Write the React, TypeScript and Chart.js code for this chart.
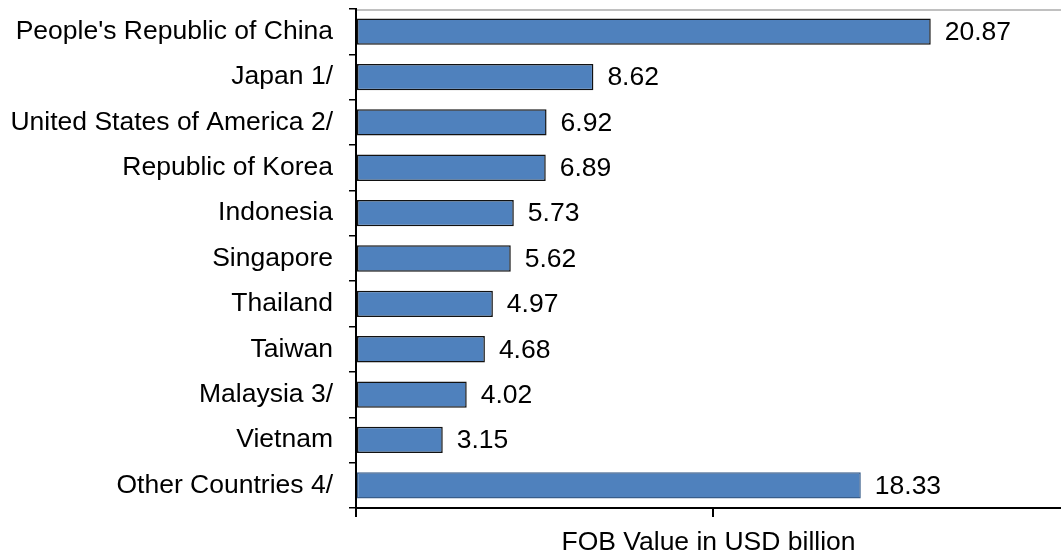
import React, { useEffect, useRef } from "react";
import { Chart, registerables } from "chart.js";

Chart.register(...registerables);

const categories = [
  "People's Republic of China",
  "Japan 1/",
  "United States of America 2/",
  "Republic of Korea",
  "Indonesia",
  "Singapore",
  "Thailand",
  "Taiwan",
  "Malaysia 3/",
  "Vietnam",
  "Other Countries 4/",
];
const values = [20.87, 8.62, 6.92, 6.89, 5.73, 5.62, 4.97, 4.68, 4.02, 3.15, 18.33];
const xAxisTicks = [0, 12.95];
const xAxisTitle = "FOB Value in USD billion";

const FONT = "'Liberation Sans', Arial, sans-serif";
const FS = 26.5;

export default function App() {
  const ref = useRef<HTMLCanvasElement | null>(null);
  useEffect(() => {
    if (!ref.current) return;
    const valueLabels = {
      id: "valueLabels",
      afterDatasetsDraw(chart: any) {
        const ctx = chart.ctx;
        const meta = chart.getDatasetMeta(0);
        ctx.save();
        ctx.font = `${FS}px ${FONT}`;
        ctx.fillStyle = "#000";
        ctx.textAlign = "left";
        ctx.textBaseline = "middle";
        meta.data.forEach((bar: any, i: number) => {
          ctx.fillText(values[i].toFixed(2), bar.x + 14, bar.y + 1);
        });
        ctx.restore();
      },
      afterDraw(chart: any) {
        const ctx = chart.ctx;
        const a = chart.chartArea;
        ctx.save();
        ctx.strokeStyle = "#c0c0c0";
        ctx.lineWidth = 2;
        ctx.beginPath();
        ctx.moveTo(a.left + 1, a.top + 1);
        ctx.lineTo(chart.width, a.top + 1);
        ctx.stroke();
        ctx.restore();
      },
    };
    const chart = new Chart(ref.current, {
      type: "bar",
      data: {
        labels: categories,
        datasets: [
          {
            data: values,
            backgroundColor: "#4f81bd",
            borderColor: values.map((_, i) => (i === values.length - 1 ? "#385d8a" : "#111111")),
            borderWidth: 1.5,
            borderSkipped: false,
            categoryPercentage: 1,
            barPercentage: 0.58,
          },
        ],
      },
      options: {
        indexAxis: "y",
        animation: false,
        responsive: false,
        maintainAspectRatio: false,
        layout: { padding: { top: 9, right: 0, left: 0, bottom: 0 } },
        plugins: {
          legend: { display: false },
          tooltip: { enabled: false },
        },
        scales: {
          x: {
            min: 0,
            max: 25.6,
            afterBuildTicks: (s: any) => {
              s.ticks = xAxisTicks.map((v) => ({ value: v }));
            },
            afterFit: (s: any) => {
              s.height = 49;
              s.paddingLeft = 0;
              s.paddingRight = 0;
              s.paddingTop = 0;
              s.paddingBottom = 0;
            },
            grid: {
              drawOnChartArea: false,
              drawTicks: true,
              tickLength: 9,
              color: "#000",
              lineWidth: 2,
            },
            border: { display: true, color: "#000", width: 2 },
            ticks: { display: false },
            title: {
              display: true,
              text: xAxisTitle,
              color: "#000",
              font: { family: FONT, size: FS },
              padding: { top: 9, bottom: -2 },
            },
          },
          y: {
            afterFit: (s: any) => {
              s.width = 356;
              s.paddingTop = 0;
              s.paddingBottom = 0;
              s.paddingLeft = 0;
              s.paddingRight = 0;
            },
            grid: {
              drawOnChartArea: false,
              drawTicks: true,
              tickLength: 7,
              color: "#000",
              lineWidth: 1.5,
              offset: true,
            },
            border: { display: true, color: "#000", width: 2 },
            ticks: {
              color: "#000",
              font: { family: FONT, size: FS },
              padding: 16,
              autoSkip: false,
            },
          },
        },
      },
      plugins: [valueLabels],
    });
    return () => chart.destroy();
  }, []);
  return (
    <div style={{ position: "absolute", left: 0, top: 0, width: 1061, height: 557, background: "#fff" }}>
      <canvas ref={ref} width={1061} height={557} style={{ display: "block" }} />
    </div>
  );
}
